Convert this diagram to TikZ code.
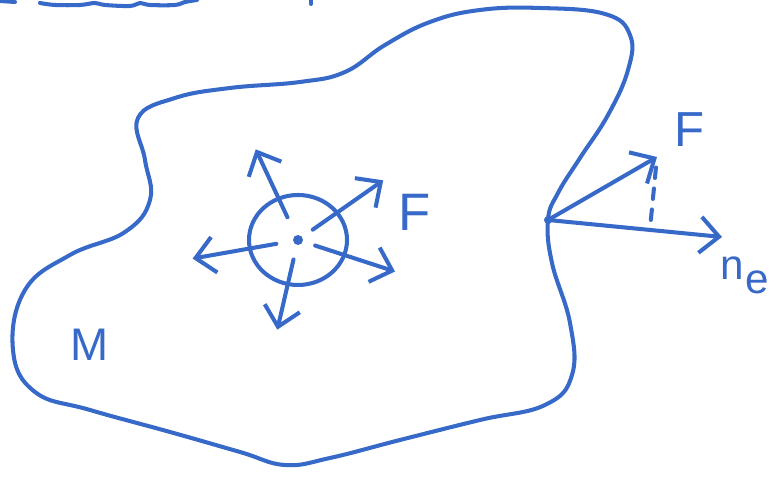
\documentclass[tikz,border=0pt]{standalone}
\usepackage{fontspec}
\setmainfont{Liberation Sans}
\usetikzlibrary{shapes.geometric, arrows.meta, calc}
\definecolor{sketchBlue}{RGB}{55,105,200}

\begin{document}
\begin{tikzpicture}[
      pen/.style={draw=sketchBlue, line width=1.15pt, line cap=round, line join=round},
      vec/.style={pen, -{Straight Barb[length=1.9mm, width=3.6mm]}},
      lbl/.style={text=sketchBlue, inner sep=0pt}
    ]
    \useasboundingbox (0,0) rectangle (7.79,4.83);

    % stray strokes at the top edge
    \draw[pen] plot[smooth, tension=0.6] coordinates {(0.40,4.80) (0.55,4.78) (0.80,4.78) (0.95,4.80) (1.05,4.78) (1.30,4.77) (1.40,4.80) (1.50,4.78) (1.75,4.78) (1.85,4.81) (1.97,4.83)};
    \draw[pen] (0,4.82) -- (0.15,4.81);
    \draw[pen] (3.11,4.83) -- (3.11,4.79);

    % body boundary
    \coordinate (P) at (5.48,2.63);
    \draw[pen] plot[smooth cycle, tension=0.7] coordinates {
      (1.38,3.65) (1.75,3.85) (2.30,3.95) (3.00,4.01) (3.45,4.11) (3.85,4.38)
      (4.30,4.61) (4.80,4.73) (5.40,4.75) (6.05,4.69) (6.30,4.48) (6.28,4.13)
      (6.08,3.68) (5.80,3.25) (5.58,2.90) (P) (5.52,2.20) (5.70,1.60) (5.72,1.08)
      (5.45,0.78) (4.80,0.63) (4.00,0.43) (3.30,0.25) (2.85,0.18) (2.40,0.31)
      (1.70,0.51) (0.90,0.73) (0.35,0.91) (0.13,1.33) (0.25,1.93) (0.70,2.28)
      (1.25,2.51) (1.50,2.83) (1.45,3.23)};

    % small ball with its radial forces
    \coordinate (c) at (2.98,2.43);
    \node[ellipse, pen, minimum width=0.98cm, minimum height=0.9cm, inner sep=0pt] (ball) at (c) {};
    \fill[sketchBlue] (c) circle (0.05);
    \foreach \a/\s/\r in {115/0.25/1.0, 35/0.18/1.04, 190/0.22/1.07, -18/0.18/1.02, 257/0.2/0.92}
      \draw[vec] ($(c)+(\a:\s)$) -- ($(c)+(\a:\r)$);
    \node[lbl, font=\fontsize{15}{17}\selectfont] (Fin) at (4.15,2.71) {F};

    \node[lbl, font=\fontsize{13}{15}\selectfont] (M) at (0.90,1.38) {M};

    % force on the boundary and the normal
    \coordinate (Ftip) at (6.57,3.26);
    \coordinate (ntip) at (7.22,2.46);
    \draw[vec] (P) -- (Ftip);
    \draw[vec] (P) -- (ntip);
    \draw[pen, dashed, shorten <=3pt] (Ftip) -- ($(P)!(Ftip)!(ntip)$);
    \fill[sketchBlue] (P) circle (0.04);
    \node[lbl, font=\fontsize{14}{16}\selectfont] (Fout) at (6.90,3.53) {F};
    \node[lbl, font=\fontsize{12}{14}\selectfont] (ne) at (7.45,2.08) {n\kern0.5pt\raisebox{-4pt}{e}};
  \end{tikzpicture}
\end{document}
